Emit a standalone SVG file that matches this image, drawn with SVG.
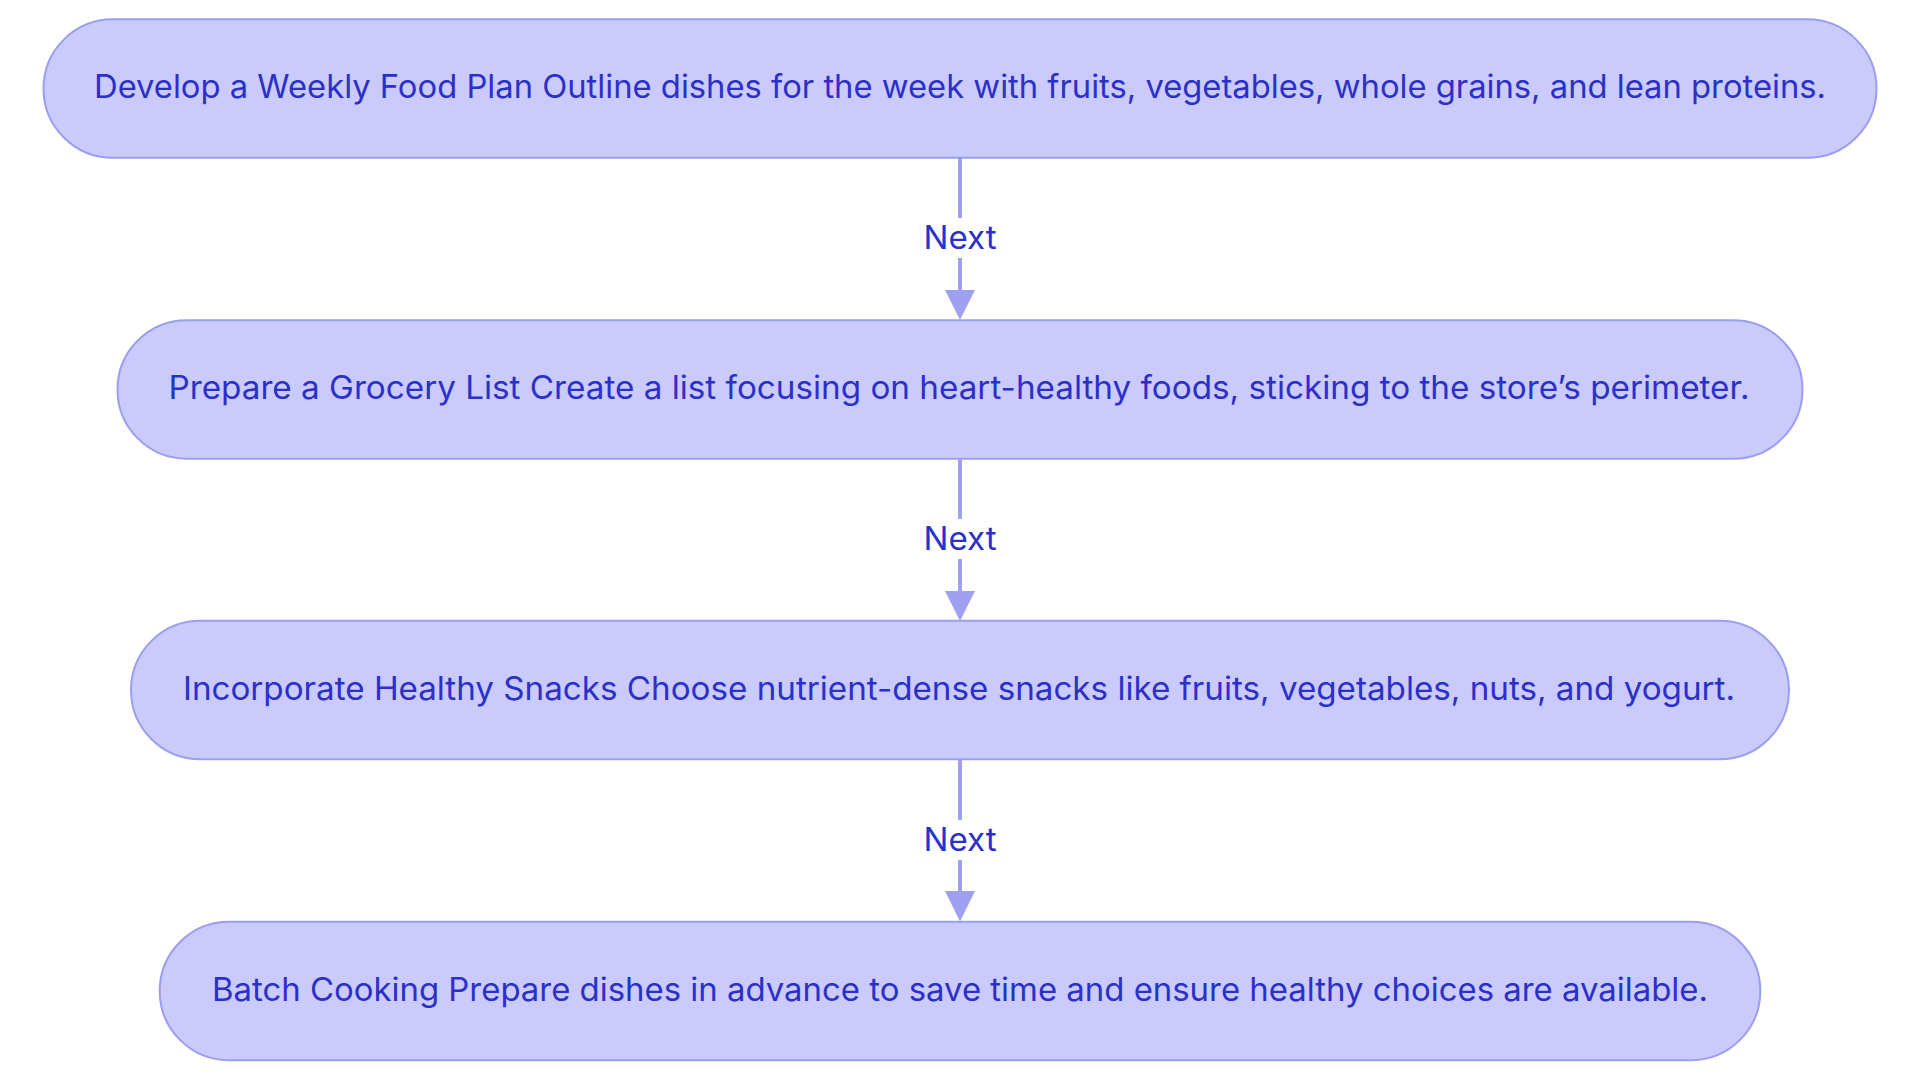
<svg xmlns="http://www.w3.org/2000/svg" width="1920" height="1083" viewBox="0 0 1920 1083">
  <style>
    .node rect { fill: #cacbfc; stroke: #9b9ef0; stroke-width: 2; }
    .node text { font-family: Inter, "Open Sans", "Liberation Sans", sans-serif; font-size: 32px; fill: #2b30c8; text-anchor: middle; }
    .edge line { stroke: #9ea1f1; stroke-width: 4; fill: none; }
    .edge polygon { fill: #9ea1f1; stroke: none; }
    .lbl-bg { fill: #ffffff; }
    .lbl { font-family: Inter, "Open Sans", "Liberation Sans", sans-serif; font-size: 32px; fill: #2b30c8; text-anchor: middle; }
  </style>
  <rect x="0" y="0" width="1920" height="1083" fill="#ffffff"/>
  <g id="connectors">
    <g class="edge" id="edge1">
      <line x1="960" y1="158" x2="960" y2="292"/>
      <polygon points="945,290 975,290 960,320"/>
      <rect class="lbl-bg" x="922" y="218" width="76" height="40"/>
      <text class="lbl" x="960" y="249" textLength="73" lengthAdjust="spacingAndGlyphs">Next</text>
    </g>
    <g class="edge" id="edge2">
      <line x1="960" y1="459" x2="960" y2="593"/>
      <polygon points="945,591 975,591 960,621"/>
      <rect class="lbl-bg" x="922" y="519" width="76" height="40"/>
      <text class="lbl" x="960" y="550" textLength="73" lengthAdjust="spacingAndGlyphs">Next</text>
    </g>
    <g class="edge" id="edge3">
      <line x1="960" y1="759" x2="960" y2="894"/>
      <polygon points="945,891 975,891 960,921.5"/>
      <rect class="lbl-bg" x="922" y="820" width="76" height="40"/>
      <text class="lbl" x="960" y="851" textLength="73" lengthAdjust="spacingAndGlyphs">Next</text>
    </g>
  </g>
  <g class="node" id="node1">
    <rect x="43.5" y="19.3" width="1833" height="138.5" rx="69.25" ry="69.25"/>
    <text x="960" y="97.7" textLength="1732" lengthAdjust="spacingAndGlyphs">Develop a Weekly Food Plan Outline dishes for the week with fruits, vegetables, whole grains, and lean proteins.</text>
  </g>
  <g class="node" id="node2">
    <rect x="117.5" y="320.2" width="1685" height="138.5" rx="69.25" ry="69.25"/>
    <text x="959" y="399" textLength="1581" lengthAdjust="spacingAndGlyphs">Prepare a Grocery List Create a list focusing on heart-healthy foods, sticking to the store’s perimeter.</text>
  </g>
  <g class="node" id="node3">
    <rect x="131" y="620.8" width="1658" height="138.5" rx="69.25" ry="69.25"/>
    <text x="959" y="700" textLength="1552" lengthAdjust="spacingAndGlyphs">Incorporate Healthy Snacks Choose nutrient-dense snacks like fruits, vegetables, nuts, and yogurt.</text>
  </g>
  <g class="node" id="node4">
    <rect x="159.7" y="921.7" width="1600.6" height="138.5" rx="69.25" ry="69.25"/>
    <text x="960" y="1001" textLength="1496" lengthAdjust="spacingAndGlyphs">Batch Cooking Prepare dishes in advance to save time and ensure healthy choices are available.</text>
  </g>
</svg>
